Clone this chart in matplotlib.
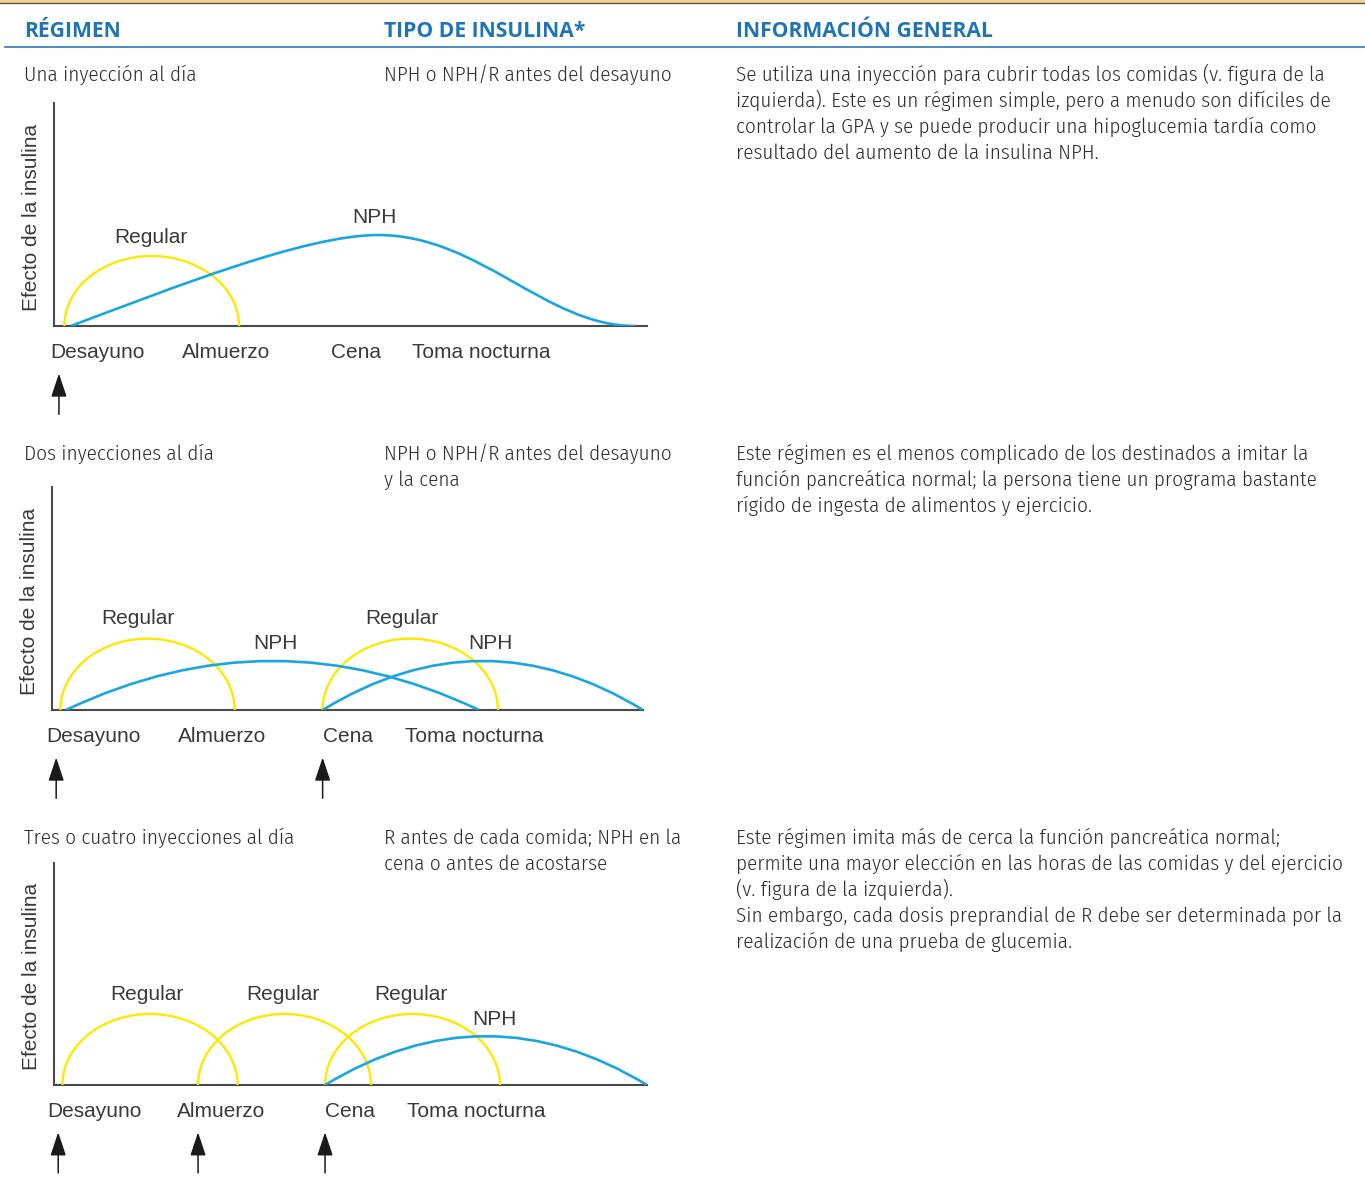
import matplotlib
matplotlib.use("Agg")
import matplotlib.pyplot as plt
from matplotlib.patches import Arc, PathPatch
from matplotlib.path import Path

# ---- data (time in hours of the day, effect in arbitrary units 0-100) ----
MEALS = ["Desayuno", "Almuerzo", "Cena", "Toma nocturna"]

HEADERS = ["RÉGIMEN", "TIPO DE INSULINA*", "INFORMACIÓN GENERAL"]

REGIMENES = ["Una inyección al día",
             "Dos inyecciones al día",
             "Tres o cuatro inyecciones al día"]

TIPOS = [["NPH o NPH/R antes del desayuno"],
         ["NPH o NPH/R antes del desayuno", "y la cena"],
         ["R antes de cada comida; NPH en la", "cena o antes de acostarse"]]

INFO = [["Se utiliza una inyección para cubrir todas los comidas (v. figura de la",
         "izquierda). Este es un régimen simple, pero a menudo son difíciles de",
         "controlar la GPA y se puede producir una hipoglucemia tardía como",
         "resultado del aumento de la insulina NPH."],
        ["Este régimen es el menos complicado de los destinados a imitar la",
         "función pancreática normal; la persona tiene un programa bastante",
         "rígido de ingesta de alimentos y ejercicio."],
        ["Este régimen imita más de cerca la función pancreática normal;",
         "permite una mayor elección en las horas de las comidas y del ejercicio",
         "(v. figura de la izquierda).",
         "Sin embargo, cada dosis preprandial de R debe ser determinada por la",
         "realización de una prueba de glucemia."]]

# where each meal label starts (hours)
meal_x_1 = [5.86, 11.16, 17.21, 20.50]
meal_x_2 = [5.76, 11.13, 17.02, 20.34]
meal_x_3 = [5.72, 10.96, 16.97, 20.30]

# regular insulin: (start, end, peak effect)
regular_1 = [(6.42, 13.49, 31.4)]
regular_2 = [(6.34, 13.42, 32.0), (16.99, 24.11, 32.0)]
regular_3 = [(6.34, 13.43, 32.0), (11.83, 18.83, 32.0), (16.97, 24.05, 32.0)]

# NPH for one injection: bezier points (hour, effect)
nph_1_x = [6.68, 10.69, 16.16, 19.11, 23.24, 25.87, 29.51]
nph_1_y = [0.0, 16.6, 40.8, 40.8, 40.8, 0.0, 0.0]
# NPH arcs: (start, end, peak effect)
nph_2 = [(6.57, 23.34, 22.0), (16.99, 30.0, 22.0)]
nph_3 = [(16.97, 30.0, 22.0)]

# injections (hours)
iny_1 = [6.20]
iny_2 = [6.17, 16.99]
iny_3 = [6.17, 11.83, 16.97]

# curve labels: (text, hour, effect at baseline)
lab_1 = [("Regular", 9.93, 37.4), ("NPH", 18.95, 46.0)]
lab_2 = [("Regular", 9.49, 38.4), ("NPH", 15.06, 27.2),
         ("Regular", 20.21, 38.4), ("NPH", 23.79, 27.2)]
lab_3 = [("Regular", 9.76, 38.3), ("Regular", 15.27, 38.3),
         ("Regular", 20.45, 38.3), ("NPH", 23.81, 26.9)]

W, H = 1365, 1179
YELLOW = "#FFE800"
CYAN = "#19A6E0"
HEAD_BLUE = "#1F74B5"
TXT = "#2E2E2E"
AXC = "#4A4A4A"

BODY = dict(family=["Fira Sans Condensed", "DejaVu Sans"], weight=300, fontsize=15.2, color=TXT)
HEAD = dict(family=["Open Sans", "DejaVu Sans"], weight="bold", fontsize=15.2, color=HEAD_BLUE)
CHART = dict(family=["Liberation Sans", "DejaVu Sans"], fontsize=15, color="#3A3A3A")

fig = plt.figure(figsize=(W / 100, H / 100), dpi=100)

# background axes in pixel units for the table layout
bg = fig.add_axes([0, 0, 1, 1])
bg.set_xlim(0, W)
bg.set_ylim(H, 0)
bg.axis("off")

bg.fill_between([0, W], 0, 2.6, color="#F4D48C", lw=0)
bg.plot([0, W], [3.2, 3.2], color="#555555", lw=1.0)
bg.plot([5, W], [47.3, 47.3], color="#3B82C4", lw=1.3)

for txt, x in zip(HEADERS, [24, 384, 736]):
    bg.text(x, 36.7, txt, va="baseline", ha="left", **HEAD)

row_base = [81, 460, 844]
for i in range(3):
    y0 = row_base[i]
    bg.text(24, y0, REGIMENES[i], va="baseline", **BODY)
    for j, line in enumerate(TIPOS[i]):
        bg.text(384, y0 + 26 * j, line, va="baseline", **BODY)
    for j, line in enumerate(INFO[i]):
        bg.text(736, y0 + 26 * j, line, va="baseline", **BODY)


def make_axes(left, right, top, bottom):
    ax = fig.add_axes([left / W, 1 - bottom / H, (right - left) / W, (bottom - top) / H])
    ax.patch.set_alpha(0)
    ax.set_xlim(6, 30)
    ax.set_ylim(0, 100)
    for s in ["top", "right"]:
        ax.spines[s].set_visible(False)
    for s in ["left", "bottom"]:
        ax.spines[s].set_color(AXC)
        ax.spines[s].set_linewidth(1.5)
    ax.set_xticks([])
    ax.set_yticks([])
    return ax


def draw_regular(ax, curves):
    for s, e, h in curves:
        ax.add_patch(Arc(((s + e) / 2, 0), e - s, 2 * h, theta1=0, theta2=180,
                         color=YELLOW, lw=1.7, zorder=3))


def draw_nph_arcs(ax, curves):
    for s, e, h in curves:
        verts = [(s, 0), ((s + e) / 2, 2 * h), (e, 0)]
        p = Path(verts, [Path.MOVETO, Path.CURVE3, Path.CURVE3])
        ax.add_patch(PathPatch(p, fc="none", ec=CYAN, lw=1.9, zorder=4))


def finish(ax, meal_x, iny, labels, ylab_x):
    for name, x in zip(MEALS, meal_x):
        ax.text(x, -14.3, name, ha="left", va="baseline", clip_on=False, **CHART)
    for x in iny:
        ax.annotate("", xy=(x, -21.3), xytext=(x, -39.6), annotation_clip=False,
                    arrowprops=dict(arrowstyle="-|>,head_length=0.72,head_width=0.24",
                                    mutation_scale=20, color="#1A1A1A", lw=1.1,
                                    shrinkA=0, shrinkB=0))
    for t, x, y in labels:
        ax.text(x, y, t, ha="center", va="baseline", **CHART)
    ax.text(ylab_x, 0.489, "Efecto de la insulina", transform=ax.transAxes,
            rotation=90, rotation_mode="anchor", ha="center", va="baseline", **CHART)


# chart 1
ax1 = make_axes(54, 647, 103, 326)
draw_regular(ax1, regular_1)
codes = [Path.MOVETO] + [Path.CURVE4] * 6
ax1.add_patch(PathPatch(Path(list(zip(nph_1_x, nph_1_y)), codes),
                        fc="none", ec=CYAN, lw=1.9, zorder=4))
finish(ax1, meal_x_1, iny_1, lab_1, -0.029)

# chart 2
ax2 = make_axes(52, 643, 487, 710)
draw_regular(ax2, regular_2)
draw_nph_arcs(ax2, nph_2)
finish(ax2, meal_x_2, iny_2, lab_2, -0.029)

# chart 3
ax3 = make_axes(54, 647, 863, 1085)
draw_regular(ax3, regular_3)
draw_nph_arcs(ax3, nph_3)
finish(ax3, meal_x_3, iny_3, lab_3, -0.029)

fig.savefig("out.png", dpi=100)
